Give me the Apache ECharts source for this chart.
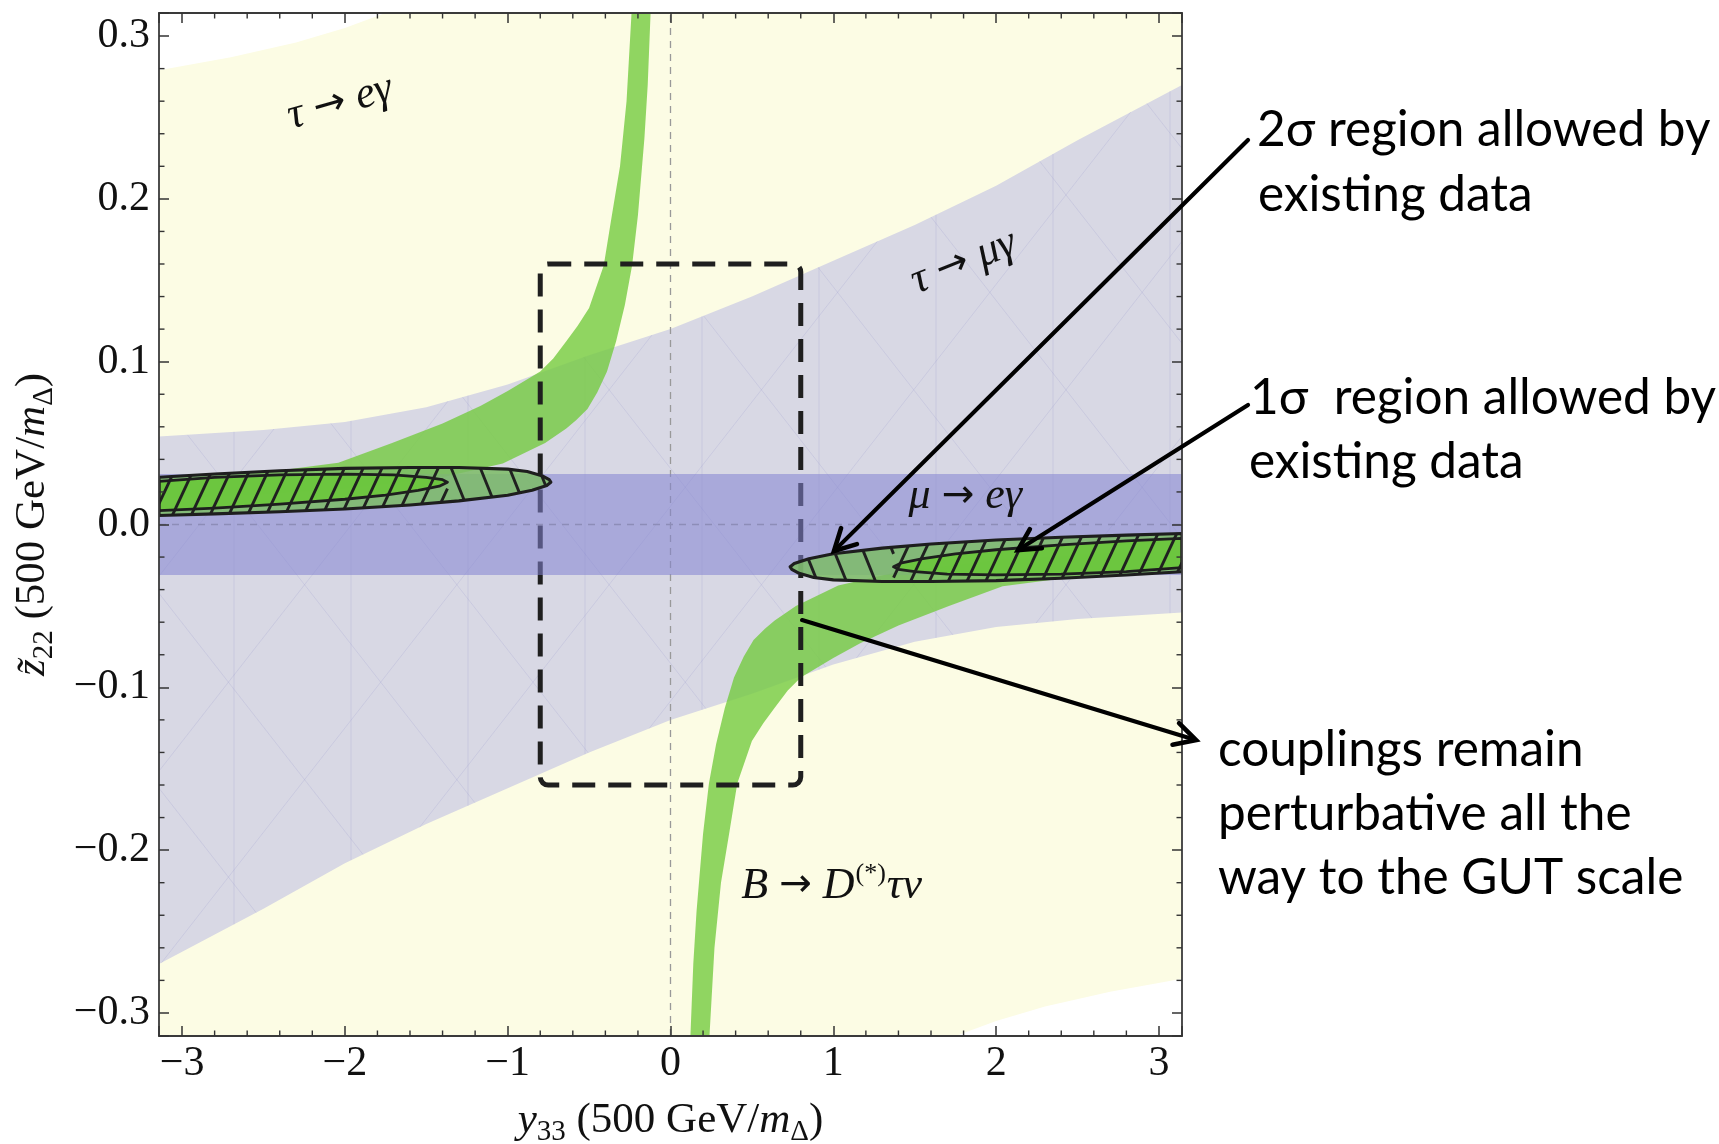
<!DOCTYPE html>
<html>
<head>
<meta charset="utf-8">
<title>Flavour constraints in the y33 – z22 plane</title>
<script src="https://cdn.jsdelivr.net/npm/echarts@6.0.0/dist/echarts.min.js"></script>
<style>
html,body{margin:0;padding:0;background:#ffffff;}
#chart{width:1719px;height:1144px;}
</style>
</head>
<body>
<div id="chart"></div>
<script>
const PI = Math.PI;
const X_MIN = -PI, X_MAX = PI;
const Z_MIN = -0.1 * PI, Z_MAX = 0.1 * PI;

// ---- axis ticks ----
const xTicks = [-3, -2, -1, 0, 1, 2, 3];
const zTicks = [-0.3, -0.2, -0.1, 0, 0.1, 0.2, 0.3];
const xMinorTicks = [-2.8, -2.6, -2.4, -2.2, -1.8, -1.6, -1.4, -1.2, -0.8, -0.6, -0.4, -0.2,
                     0.2, 0.4, 0.6, 0.8, 1.2, 1.4, 1.6, 1.8, 2.2, 2.4, 2.6, 2.8];
const zMinorTicks = [-0.28, -0.26, -0.24, -0.22, -0.18, -0.16, -0.14, -0.12, -0.08, -0.06, -0.04, -0.02,
                     0.02, 0.04, 0.06, 0.08, 0.12, 0.14, 0.16, 0.18, 0.22, 0.24, 0.26, 0.28];

// ---- tau -> e gamma allowed region (pale yellow) ----
const tauEgRegion = [[-PI, 0.279], [-2.7, 0.287], [-2.3, 0.296], [-2.0, 0.305], [-1.75, 0.3142],
                     [PI, 0.3142], [PI, -0.279], [2.7, -0.287], [2.3, -0.296], [2.0, -0.305],
                     [1.75, -0.3142], [-PI, -0.3142]];

// ---- tau -> mu gamma allowed band (grey) ----
const tauMuX     = [-PI, -2.5, -2.0, -1.5, -1.0, -0.5, 0.0, 0.5, 1.0, 1.5, 2.0, 2.5, PI];
const tauMuUpper = [0.054, 0.058, 0.063, 0.072, 0.086, 0.104, 0.120, 0.140, 0.162, 0.184, 0.208, 0.236, 0.270];
const tauMuLower = [-0.270, -0.236, -0.208, -0.184, -0.162, -0.140, -0.120, -0.104, -0.086, -0.072, -0.063, -0.058, -0.054];

// ---- mu -> e gamma allowed band (blue) ----
const muEgBand = [-0.031, 0.031];

// ---- B -> D(*) tau nu band (green), two branches ----
const bdUpperOuter = [[-0.236, 0.32], [-0.27, 0.26], [-0.31, 0.22], [-0.36, 0.19], [-0.41, 0.159],
                      [-0.50, 0.133], [-0.57, 0.122], [-0.64, 0.1125], [-0.72, 0.102], [-0.80, 0.094],
                      [-1.0, 0.082], [-1.165, 0.073], [-1.4, 0.062], [-1.71, 0.050], [-2.04, 0.038],
                      [-2.5, 0.032], [-PI, 0.027]];
const bdUpperInner = [[-0.12, 0.32], [-0.14, 0.27], [-0.16, 0.2375], [-0.20, 0.19], [-0.236, 0.159],
                      [-0.28, 0.135], [-0.334, 0.1125], [-0.39, 0.094], [-0.45, 0.081], [-0.51, 0.071],
                      [-0.58, 0.064], [-0.64, 0.059], [-0.77, 0.050], [-1.03, 0.0375], [-1.4, 0.029],
                      [-2.0, 0.022], [-2.6, 0.018], [-PI, 0.016]];
const bdLowerOuter = [[0.236, -0.32], [0.27, -0.26], [0.31, -0.22], [0.36, -0.19], [0.41, -0.159],
                      [0.50, -0.133], [0.57, -0.122], [0.64, -0.1125], [0.72, -0.102], [0.80, -0.094],
                      [1.0, -0.082], [1.165, -0.073], [1.4, -0.062], [1.71, -0.050], [2.04, -0.038],
                      [2.5, -0.032], [PI, -0.027]];
const bdLowerInner = [[0.12, -0.32], [0.14, -0.27], [0.16, -0.2375], [0.20, -0.19], [0.236, -0.159],
                      [0.28, -0.135], [0.334, -0.1125], [0.39, -0.094], [0.45, -0.081], [0.51, -0.071],
                      [0.58, -0.064], [0.64, -0.059], [0.77, -0.050], [1.03, -0.0375], [1.4, -0.029],
                      [2.0, -0.022], [2.6, -0.018], [PI, -0.016]];

// ---- 2 sigma / 1 sigma allowed regions ----
const sigma2Left = [[-PI, 0.029], [-2.8, 0.031], [-2.4, 0.033], [-2.0, 0.0345], [-1.6, 0.035], [-1.3, 0.035],
                    [-1.0, 0.034], [-0.88, 0.0325], [-0.79, 0.030], [-0.745, 0.0275], [-0.735, 0.026],
                    [-0.76, 0.024], [-0.85, 0.021], [-1.0, 0.018], [-1.3, 0.0145], [-1.6, 0.012],
                    [-2.0, 0.0095], [-2.4, 0.0078], [-2.8, 0.0065], [-PI, 0.0055]];
const sigma1Left = [[-PI, 0.0265], [-2.8, 0.029], [-2.4, 0.0305], [-2.0, 0.031], [-1.7, 0.0305], [-1.5, 0.029],
                    [-1.40, 0.0275], [-1.37, 0.026], [-1.42, 0.0235], [-1.55, 0.021], [-1.75, 0.018],
                    [-2.0, 0.0155], [-2.4, 0.0125], [-2.8, 0.010], [-PI, 0.0085]];
const sigma2Right = [[PI, -0.029], [2.8, -0.031], [2.4, -0.033], [2.0, -0.0345], [1.6, -0.035], [1.3, -0.035],
                     [1.0, -0.034], [0.88, -0.0325], [0.79, -0.030], [0.745, -0.0275], [0.735, -0.026],
                     [0.76, -0.024], [0.85, -0.021], [1.0, -0.018], [1.3, -0.0145], [1.6, -0.012],
                     [2.0, -0.0095], [2.4, -0.0078], [2.8, -0.0065], [PI, -0.0055]];
const sigma1Right = [[PI, -0.0265], [2.8, -0.029], [2.4, -0.0305], [2.0, -0.031], [1.7, -0.0305], [1.5, -0.029],
                     [1.40, -0.0275], [1.37, -0.026], [1.42, -0.0235], [1.55, -0.021], [1.75, -0.018],
                     [2.0, -0.0155], [2.4, -0.0125], [2.8, -0.010], [PI, -0.0085]];

// ---- perturbativity box ----
const boxCorners = [[-0.8, 0.16], [0.8, -0.16]];

// ---- labels in the plot ----
const regionLabels = [
  { text: '{it|τ }{ar|→}{it| eγ}', at: [-2.03, 0.259], rotate: 16 },
  { text: '{it|τ }{ar|→}{it| μγ}', at: [1.80, 0.161], rotate: 22 },
  { text: '{it|μ }{ar|→}{it| eγ}', at: [1.81, 0.017], rotate: 0 },
  { text: '{it|B }{ar|→}{it| D}{sup|(*)}{it|τν}', at: [0.99, -0.222], rotate: 0 }
];
const annotationArrows = [
  { from: [3.547, 0.2362], to: [1.004, -0.0163] },
  { from: [3.547, 0.0734], to: [2.134, -0.0157] },
  { from: [0.808, -0.0587], to: [3.228, -0.1324] }
];
const noteLines = [
  { text: '2σ region allowed by', x: 1257, y: 130 },
  { text: 'existing data', x: 1258, y: 195 },
  { text: '1σ  region allowed by', x: 1250, y: 398 },
  { text: 'existing data', x: 1249, y: 462 },
  { text: 'couplings remain', x: 1218, y: 750 },
  { text: 'perturbative all the', x: 1218, y: 814 },
  { text: 'way to the GUT scale', x: 1218, y: 878 }
];

// ================= helpers =================
const SERIF = '"Liberation Serif", "DejaVu Serif", serif';
function px(api, pts) { return pts.map(p => api.coord(p)); }

function hatch(polys, angleDeg, spacing) {
  const a = angleDeg * PI / 180;
  const d = [Math.cos(a), Math.sin(a)];
  const n = [-d[1], d[0]];
  let cmin = Infinity, cmax = -Infinity;
  polys.forEach(P => P.forEach(p => {
    const c = n[0] * p[0] + n[1] * p[1];
    cmin = Math.min(cmin, c); cmax = Math.max(cmax, c);
  }));
  const segs = [];
  for (let c = Math.ceil(cmin / spacing) * spacing; c <= cmax; c += spacing) {
    const hits = [];
    polys.forEach(P => {
      for (let i = 0; i < P.length; i++) {
        const p = P[i], q = P[(i + 1) % P.length];
        const cp = n[0] * p[0] + n[1] * p[1], cq = n[0] * q[0] + n[1] * q[1];
        if ((cp < c && cq >= c) || (cq < c && cp >= c)) {
          const t = (c - cp) / (cq - cp);
          const x = p[0] + t * (q[0] - p[0]), y = p[1] + t * (q[1] - p[1]);
          hits.push([x, y, d[0] * x + d[1] * y]);
        }
      }
    });
    hits.sort((u, v) => u[2] - v[2]);
    for (let k = 0; k + 1 < hits.length; k += 2) segs.push([hits[k], hits[k + 1]]);
  }
  return segs;
}
function clipSegX(seg, lo, hi) {
  const x1 = seg[0][0], y1 = seg[0][1], x2 = seg[1][0], y2 = seg[1][1];
  const dx = x2 - x1;
  if (Math.abs(dx) < 1e-9) return (x1 < lo || x1 > hi) ? null : seg;
  let ta = (lo - x1) / dx, tb = (hi - x1) / dx;
  if (ta > tb) { const t = ta; ta = tb; tb = t; }
  const t0 = Math.max(0, ta), t1 = Math.min(1, tb);
  if (t0 >= t1) return null;
  return [[x1 + t0 * dx, y1 + t0 * (y2 - y1)], [x1 + t1 * dx, y1 + t1 * (y2 - y1)]];
}
function segEls(segs, style) {
  return segs.filter(Boolean).map(s => ({
    type: 'line', shape: { x1: s[0][0], y1: s[0][1], x2: s[1][0], y2: s[1][1] }, style: style
  }));
}
function layer(render, clip) {
  return { type: 'custom', coordinateSystem: 'cartesian2d', data: [[0, 0]], clip: clip !== false,
           silent: true, animation: false, renderItem: render };
}

// ================= layers =================
function renderYellow(params, api) {
  return { type: 'polygon', shape: { points: px(api, tauEgRegion) }, style: { fill: '#FCFCE4' } };
}
function renderGrey(params, api) {
  const pts = tauMuX.map((x, i) => [x, tauMuUpper[i]])
    .concat(tauMuX.map((x, i) => [x, tauMuLower[i]]).reverse());
  const P = px(api, pts);
  const meshStyle = { stroke: 'rgba(150,150,205,0.22)', lineWidth: 1 };
  const mesh = segEls(hatch([P], 90, 117), meshStyle)
    .concat(segEls(hatch([P], 52, 120), meshStyle))
    .concat(segEls(hatch([P], 128, 120), meshStyle));
  return { type: 'group', children: [
    { type: 'polygon', shape: { points: P }, style: { fill: '#D8D8E4' } }
  ].concat(mesh) };
}
function renderGreen(params, api) {
  const up = bdUpperOuter.concat(bdUpperInner.slice().reverse());
  const lo = bdLowerOuter.concat(bdLowerInner.slice().reverse());
  const st = { fill: 'rgba(116,202,64,0.8)' };
  return { type: 'group', children: [
    { type: 'polygon', shape: { points: px(api, up) }, style: st },
    { type: 'polygon', shape: { points: px(api, lo) }, style: st }
  ] };
}
function renderZeroLines(params, api) {
  const a = api.coord([0, Z_MIN]), b = api.coord([0, Z_MAX]);
  const c = api.coord([X_MIN, 0]), d = api.coord([X_MAX, 0]);
  const st = { stroke: '#999999', lineWidth: 1.3, lineDash: [7, 6] };
  return { type: 'group', children: [
    { type: 'line', shape: { x1: a[0], y1: a[1], x2: b[0], y2: b[1] }, style: st },
    { type: 'line', shape: { x1: c[0], y1: c[1], x2: d[0], y2: d[1] }, style: st }
  ] };
}
function renderBox(params, api) {
  const p = api.coord(boxCorners[0]), q = api.coord(boxCorners[1]);
  return { type: 'rect',
    shape: { x: Math.min(p[0], q[0]), y: Math.min(p[1], q[1]),
             width: Math.abs(q[0] - p[0]), height: Math.abs(q[1] - p[1]), r: 8 },
    style: { fill: null, stroke: '#1f1f1f', lineWidth: 5, lineDash: [23, 13] } };
}
function renderBlue(params, api) {
  const pts = [[X_MIN, muEgBand[1]], [X_MAX, muEgBand[1]], [X_MAX, muEgBand[0]], [X_MIN, muEgBand[0]]];
  return { type: 'polygon', shape: { points: px(api, pts) }, style: { fill: 'rgba(132,132,210,0.55)' } };
}
function ellipseEls(api, outer, inner, tipSideLeft) {
  const O = px(api, outer), I = px(api, inner);
  const tipX = tipSideLeft
    ? api.coord([Math.min.apply(null, inner.map(p => p[0])), 0])[0]
    : api.coord([Math.max.apply(null, inner.map(p => p[0])), 0])[0];
  const stripe = { stroke: '#202020', lineWidth: 2.9 };
  let a = hatch([O], -65, 17), b = hatch([O], 68, 27);
  if (tipSideLeft) {
    a = a.map(s => clipSegX(s, tipX, 1e5));
    b = b.map(s => clipSegX(s, -1e5, tipX));
  } else {
    a = a.map(s => clipSegX(s, -1e5, tipX));
    b = b.map(s => clipSegX(s, tipX, 1e5));
  }
  return [
    { type: 'polygon', shape: { points: O }, style: { fill: 'rgba(124,188,102,0.85)' } },
    { type: 'polygon', shape: { points: I }, style: { fill: 'rgba(106,200,58,0.9)' } }
  ].concat(segEls(a, stripe)).concat(segEls(b, stripe)).concat([
    { type: 'polygon', shape: { points: I }, style: { fill: null, stroke: '#1e1e1e', lineWidth: 2.8, lineJoin: 'round' } },
    { type: 'polygon', shape: { points: O }, style: { fill: null, stroke: '#1e1e1e', lineWidth: 3.1, lineJoin: 'round' } }
  ]);
}
function renderEllipses(params, api) {
  return { type: 'group', children:
    ellipseEls(api, sigma2Left, sigma1Left, false).concat(ellipseEls(api, sigma2Right, sigma1Right, true)) };
}
function renderMinorTicks(params, api) {
  const st = { stroke: '#333333', lineWidth: 1.4 };
  const L = 5.5, els = [];
  xMinorTicks.forEach(x => {
    const b = api.coord([x, Z_MIN]), t = api.coord([x, Z_MAX]);
    els.push({ type: 'line', shape: { x1: b[0], y1: b[1], x2: b[0], y2: b[1] - L }, style: st });
    els.push({ type: 'line', shape: { x1: t[0], y1: t[1], x2: t[0], y2: t[1] + L }, style: st });
  });
  zMinorTicks.forEach(z => {
    const l = api.coord([X_MIN, z]), r = api.coord([X_MAX, z]);
    els.push({ type: 'line', shape: { x1: l[0], y1: l[1], x2: l[0] + L, y2: l[1] }, style: st });
    els.push({ type: 'line', shape: { x1: r[0], y1: r[1], x2: r[0] - L, y2: r[1] }, style: st });
  });
  return { type: 'group', children: els };
}
function renderLabels(params, api) {
  return { type: 'group', children: regionLabels.map(l => {
    const p = api.coord(l.at);
    return { type: 'text', x: p[0], y: p[1], rotation: l.rotate * PI / 180,
      style: { text: l.text, align: 'center', verticalAlign: 'middle', fill: '#111111',
        rich: {
          it: { fontFamily: SERIF, fontStyle: 'italic', fontSize: 44, lineHeight: 50, fill: '#111111' },
          ar: { fontFamily: '"DejaVu Sans", sans-serif', fontSize: 39, lineHeight: 50, fill: '#111111' },
          sup: { fontFamily: SERIF, fontSize: 26, lineHeight: 50, verticalAlign: 'top', padding: [0, 1, 18, 1], fill: '#111111' }
        } } };
  }) };
}
function renderArrows(params, api) {
  const els = [];
  const st = { stroke: '#000000', lineWidth: 4.2, lineCap: 'round', lineJoin: 'miter' };
  annotationArrows.forEach(a => {
    const p = api.coord(a.from), q = api.coord(a.to);
    const dx = q[0] - p[0], dy = q[1] - p[1], len = Math.hypot(dx, dy);
    const ux = dx / len, uy = dy / len;
    const arm = 24, ang = 28 * PI / 180;
    const c = Math.cos(ang), s = Math.sin(ang);
    const a1 = [q[0] - arm * (ux * c - uy * s), q[1] - arm * (uy * c + ux * s)];
    const a2 = [q[0] - arm * (ux * c + uy * s), q[1] - arm * (uy * c - ux * s)];
    els.push({ type: 'line', shape: { x1: p[0], y1: p[1], x2: q[0] - ux * 2, y2: q[1] - uy * 2 }, style: st });
    els.push({ type: 'polyline', shape: { points: [a1, q, a2] }, style: Object.assign({ fill: null }, st, { lineWidth: 4.6 }) });
  });
  return { type: 'group', children: els };
}

// ================= axes =================
function fmtX(v) {
  const t = xTicks.find(k => Math.abs(k - v) < 1e-6);
  if (t === undefined) return '';
  return t < 0 ? '\u2212' + (-t) : String(t);
}
function fmtZ(v) {
  const t = zTicks.find(k => Math.abs(k - v) < 1e-6);
  if (t === undefined) return '';
  return (t < -1e-9 ? '\u2212' : '') + Math.abs(t).toFixed(1);
}
const axisLineSt = { show: true, onZero: false, lineStyle: { color: '#3a3a3a', width: 1.8 } };
const tickSt = { show: true, inside: true, length: 10, lineStyle: { color: '#333333', width: 1.5 } };
const labelSt = { fontFamily: SERIF, fontSize: 42, color: '#111111' };
const nameRich = {
  it: { fontFamily: SERIF, fontStyle: 'italic', fontSize: 43, lineHeight: 52, color: '#111111' },
  sub: { fontFamily: SERIF, fontSize: 29, lineHeight: 29, verticalAlign: 'bottom', color: '#111111' }
};

const option = {
  backgroundColor: '#ffffff',
  animation: false,
  grid: { left: 159, top: 13, width: 1023, height: 1023, containLabel: false, outerBoundsMode: 'none' },
  xAxis: [
    { type: 'value', min: X_MIN, max: X_MAX, position: 'bottom', z: 10,
      axisLine: axisLineSt, axisTick: tickSt, splitLine: { show: false },
      axisLabel: Object.assign({ formatter: fmtX, margin: 7 }, labelSt),
      name: '{it|y}{sub|33} (500 GeV/{it|m}{sub|Δ})', nameLocation: 'middle', nameGap: 59,
      nameTextStyle: { fontFamily: SERIF, fontSize: 43, lineHeight: 52, color: '#111111', rich: nameRich } },
    { type: 'value', min: X_MIN, max: X_MAX, position: 'top', z: 10,
      axisLine: axisLineSt, axisTick: tickSt, splitLine: { show: false }, axisLabel: { show: false } }
  ],
  yAxis: [
    { type: 'value', min: Z_MIN, max: Z_MAX, position: 'left', z: 10,
      axisLine: axisLineSt, axisTick: tickSt, splitLine: { show: false },
      axisLabel: Object.assign({ formatter: fmtZ, margin: 9 }, labelSt),
      name: '{it|z̃}{sub|22} (500 GeV/{it|m}{sub|Δ})', nameLocation: 'middle', nameGap: 100, nameRotate: 90,
      nameTextStyle: { fontFamily: SERIF, fontSize: 43, lineHeight: 52, color: '#111111', rich: nameRich } },
    { type: 'value', min: Z_MIN, max: Z_MAX, position: 'right', z: 10,
      axisLine: axisLineSt, axisTick: tickSt, splitLine: { show: false }, axisLabel: { show: false } }
  ],
  series: [
    layer(renderYellow),
    layer(renderGrey),
    layer(renderGreen),
    layer(renderZeroLines),
    layer(renderBox),
    layer(renderBlue),
    layer(renderEllipses),
    layer(renderLabels, false),
    Object.assign(layer(renderMinorTicks, false), { z: 11 }),
    Object.assign(layer(renderArrows, false), { z: 12 })
  ],
  graphic: noteLines.map(t => ({
    type: 'text', x: t.x, y: t.y, z: 20, silent: true,
    style: { text: t.text, fill: '#000000', font: '49.5px Lato, "Open Sans", sans-serif',
             align: 'left', verticalAlign: 'middle', textAlign: 'left', textVerticalAlign: 'middle' }
  }))
};

const chart = echarts.init(document.getElementById('chart'), null, { renderer: 'canvas' });
chart.setOption(option);
</script>
</body>
</html>
